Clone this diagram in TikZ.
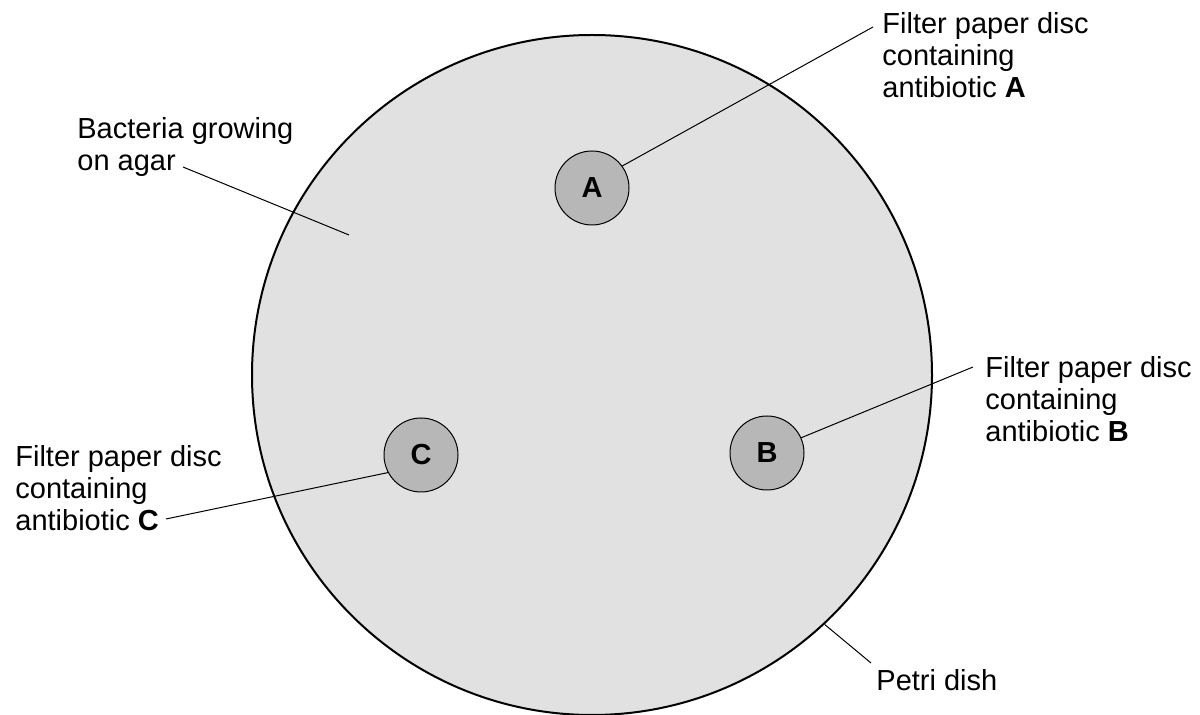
\documentclass[tikz,border=0pt]{standalone}
\usepackage{fontspec}
\setmainfont{Liberation Sans}
\definecolor{agar}{RGB}{225,225,225}
\definecolor{discfill}{RGB}{183,183,183}

\begin{document}
\begin{tikzpicture}[x=.5pt,y=-.5pt,
  lbl/.style={anchor=north west,inner sep=0,align=left,font=\fontsize{14.5}{16}\selectfont},
  disc/.style={circle,draw,line width=.5pt,fill=discfill,minimum size=37pt,inner sep=0,
    font=\fontsize{14.5}{16}\selectfont\bfseries},
  lead/.style={line width=.5pt}]
  \useasboundingbox (0,0) rectangle (1200,715);
  % dish and discs
  \node[circle,draw,line width=1pt,fill=agar,minimum size=340pt,inner sep=0] (dish) at (592,375) {};
  \node[disc] (discA) at (592,188) {A};
  \node[disc] (discB) at (767,453) {B};
  \node[disc] (discC) at (421,455) {C};
  % labels
  \node[lbl] (labA) at (882,12) {Filter paper disc\\containing\\antibiotic \textbf{A}};
  \node[lbl] (labB) at (985,356) {Filter paper disc\\containing\\antibiotic \textbf{B}};
  \node[lbl] (labC) at (15,445) {Filter paper disc\\containing\\antibiotic \textbf{C}};
  \node[lbl] (labBact) at (77,117) {Bacteria growing\\on agar};
  \node[lbl] (labPetri) at (876,669) {Petri dish};
  \coordinate (tipA) at (873,27);
  \coordinate (tipB) at (973,367);
  \coordinate (tipC) at (166,519);
  \coordinate (tipBact) at (183,167);
  \coordinate (inAgar) at (349,235);
  \coordinate (tipPetri) at (871,663);
  \draw[lead] (discA.36) -- (tipA);
  \draw[lead] (discB.24) -- (tipB);
  \draw[lead] (discC.208) -- (tipC);
  \draw[lead] (tipBact) -- (inAgar);
  \draw[lead] (dish.-47.6) -- (tipPetri);
\end{tikzpicture}
\end{document}
